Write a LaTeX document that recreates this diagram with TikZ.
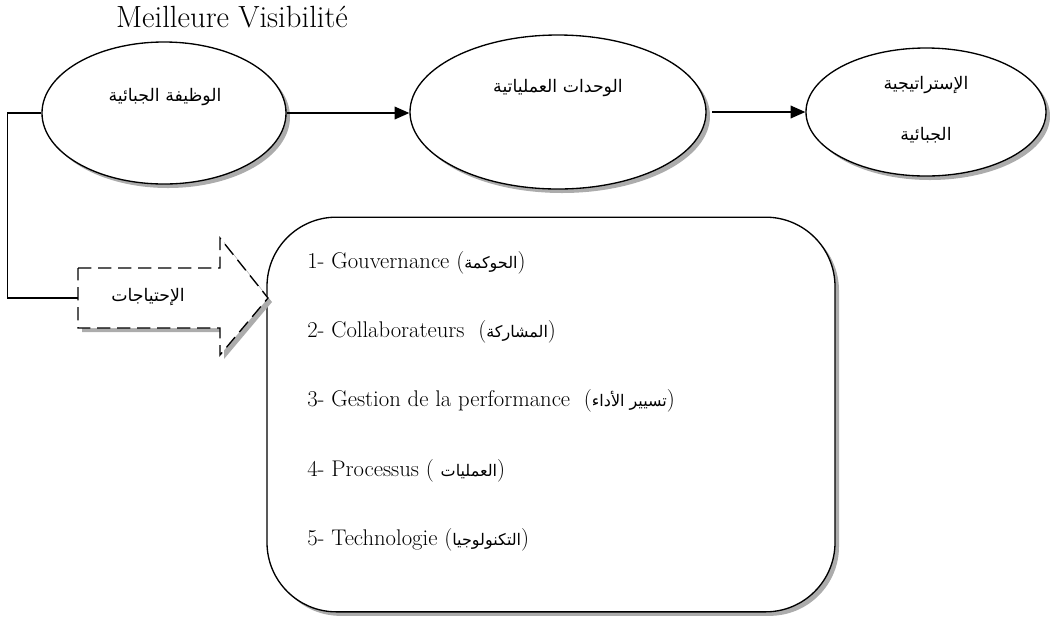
\documentclass[tikz,border=0pt]{standalone}
\usepackage{fontspec}
\newfontfamily\arabicfont[Script=Arabic]{DejaVu Sans}
\TeXXeTstate=1
\usetikzlibrary{arrows.meta,shapes.geometric,shadows}
% right-to-left Arabic run
\newcommand{\artxt}[1]{{\arabicfont\beginR #1\endR}}
% Arabic run inside the list items
\newcommand{\arsmall}[1]{{\arabicfont\fontsize{12}{14}\selectfont\beginR #1\endR}}

\begin{document}
\begin{tikzpicture}[x=0.75pt,y=-0.75pt,
  shade/.style={drop shadow={shadow xshift=3pt,shadow yshift=-3pt,fill=gray!65,opacity=1}},
  oval/.style={ellipse,draw,line width=1pt,fill=white,inner sep=0pt,shade},
  flow/.style={line width=1pt,-{Triangle[length=11pt,width=9.5pt]}},
  link/.style={line width=1pt},
  artext/.style={font=\arabicfont\fontsize{13}{15}\selectfont,inner sep=0pt},
  itemtext/.style={anchor=base west,inner sep=0pt,font=\fontsize{17}{20}\selectfont},
  panel/.style={draw,line width=1pt,fill=white,rounded corners=52pt,inner sep=0pt,shade},
]
\useasboundingbox (0,0) rectangle (1050,626);

% heading
\node[anchor=base,inner sep=0pt,font=\fontsize{23}{27}\selectfont] (title) at (232,27) {Meilleure Visibilité};

% the three ovals
\node[oval,minimum width=183pt,minimum height=106.5pt] (e1) at (164,113) {};
\node[oval,minimum width=222pt,minimum height=115.5pt] (e2) at (558,112) {};
\node[oval,minimum width=180pt,minimum height=96pt] (e3) at (926,112) {};

\node[artext] (t1) at (165,97) {\artxt{الوظيفة الجبائية}};
\node[artext] (t2) at (558,88) {\artxt{الوحدات العملياتية}};
\node[artext] (t3a) at (926,85) {\artxt{الإستراتيجية}};
\node[artext] (t3b) at (926,135) {\artxt{الجبائية}};

\draw[flow] (e1.east) -- (e1.east -| e2.west);
\draw[flow] ([xshift=4pt]e2.east |- e3.west) -- (e3.west);

% list panel
\node[panel,minimum width=426pt,minimum height=296pt] (box) at (551,414.5) {};
\node[itemtext] (i1) at (307,268) {1- Gouvernance (\arsmall{الحوكمة})};
\node[itemtext] (i2) at (307,337) {2- Collaborateurs~ (\arsmall{المشاركة})};
\node[itemtext] (i3) at (307,406) {3- Gestion de la performance~ (\arsmall{تسيير الأداء})};
\node[itemtext] (i4) at (307,476) {4- Processus ( \arsmall{العمليات})};
\node[itemtext] (i5) at (307,545) {5- Technologie (\arsmall{التكنولوجيا})};

% dashed block arrow of needs
\draw[line width=1pt,dash pattern=on 10pt off 5pt,fill=white,shade]
  (78,268) -- (220,268) -- (220,238) -- (268,298) -- (220,355) -- (220,328) -- (78,328) -- cycle;
\coordinate (needin) at (78,298);
\node[artext] (need) at (148,297) {\artxt{الإحتياجات}};

% feedback link from the first oval to the needs
\draw[link] (e1.west) -- ++(-34,0) |- (needin);
\end{tikzpicture}
\end{document}
